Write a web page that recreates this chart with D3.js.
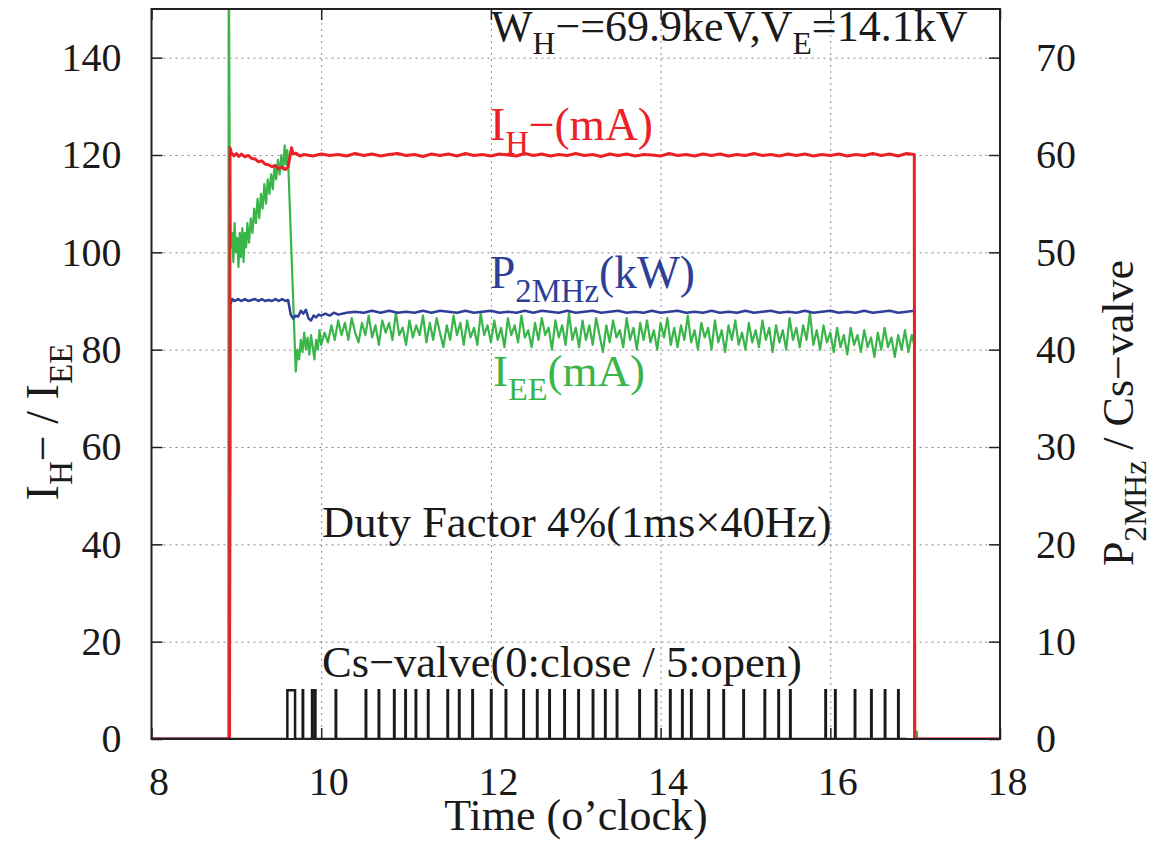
<!DOCTYPE html>
<html lang="en">
<head>
<meta charset="UTF-8">
<title>H- beam current, EE current and 2MHz power</title>
<script src="https://d3js.org/d3.v7.min.js"></script>
<style>
  body { margin: 0; background: #fff; }
  svg text { font-family: "Liberation Serif", "DejaVu Serif", serif; fill: #1a1a1a; }
  .grid line { stroke: #8a8a8a; stroke-dasharray: 2,4; stroke-width: 1; }
  .grid path { display: none; }
  .axis path { display: none; }
  .axis line { stroke: #222; stroke-width: 1.5; }
  .axis text { font-size: 40px; }
</style>
</head>
<body>
<div id="chart"></div>
<script>
// axis settings
const timeTicks = [8, 10, 12, 14, 16, 18];
const leftTicks = [0, 20, 40, 60, 80, 100, 120, 140];
const rightTicks = [0, 10, 20, 30, 40, 50, 60, 70];

// I_H- (mA), [time, value]
const ihData = [
  [8.0, 0], [8.92, 0], [8.925, 121.5], [8.94, 120.5], [8.97, 119.8], [9.0, 120.3], [9.03, 119.7],
  [9.06, 120.2], [9.1, 119.6], [9.14, 119.9], [9.18, 119.3], [9.22, 119.2], [9.26, 118.6],
  [9.30, 118.8], [9.34, 118.1], [9.38, 118.0], [9.42, 117.6], [9.46, 117.8], [9.50, 117.2],
  [9.54, 117.5], [9.58, 117.0], [9.61, 117.6], [9.63, 119.5], [9.65, 121.5], [9.67, 120.2],
  [9.70, 120.4], [9.75, 119.8],
  [9.8, 120.1], [9.9, 119.8], [10.0, 120.2], [10.1, 119.9], [10.2, 120.1], [10.3, 119.8],
  [10.4, 120.3], [10.5, 119.9], [10.6, 120.2], [10.7, 119.8], [10.8, 120.1], [10.9, 120.3],
  [11.0, 119.9], [11.1, 120.1], [11.2, 119.7], [11.3, 120.2], [11.4, 119.9], [11.5, 120.2],
  [11.6, 119.8], [11.7, 120.3], [11.8, 119.9], [11.9, 120.1], [12.0, 119.8], [12.1, 120.2],
  [12.2, 120.0], [12.3, 119.8], [12.4, 120.3], [12.5, 119.9], [12.6, 120.2], [12.7, 119.8],
  [12.8, 120.1], [12.9, 119.9], [13.0, 120.3], [13.1, 119.9], [13.2, 120.1], [13.3, 119.7],
  [13.4, 120.2], [13.5, 119.9], [13.6, 120.2], [13.7, 119.8], [13.8, 120.1], [13.9, 120.0],
  [14.0, 119.8], [14.1, 120.3], [14.2, 119.9], [14.3, 120.1], [14.4, 119.8], [14.5, 120.2],
  [14.6, 119.9], [14.7, 120.2], [14.8, 119.8], [14.9, 120.1], [15.0, 119.9], [15.1, 120.3],
  [15.2, 119.9], [15.3, 120.1], [15.4, 119.8], [15.5, 120.2], [15.6, 119.9], [15.7, 120.2],
  [15.8, 119.8], [15.9, 120.1], [16.0, 119.9], [16.1, 120.2], [16.2, 119.8], [16.3, 120.1],
  [16.4, 119.9], [16.5, 120.3], [16.6, 119.9], [16.7, 120.2], [16.8, 119.8], [16.9, 120.3],
  [16.99, 120.1], [16.995, 0], [18.0, 0]
];

// I_EE (mA), [time, value]
const ieeData = [
  [8.0, 0], [8.905, 0], [8.91, 165], [8.922, 118], [8.935, 101], [8.95, 104], [8.965, 98],
  [8.98, 106], [8.995, 100], [9.01, 103], [9.025, 97], [9.04, 104], [9.055, 99], [9.07, 105],
  [9.085, 98], [9.10, 104], [9.115, 101], [9.13, 106], [9.15, 102], [9.17, 107], [9.19, 104],
  [9.21, 109], [9.23, 106], [9.25, 111], [9.27, 107], [9.29, 112], [9.31, 109], [9.33, 114],
  [9.35, 110], [9.37, 115], [9.39, 112], [9.41, 116], [9.43, 113], [9.45, 118], [9.47, 115],
  [9.49, 119], [9.51, 116], [9.53, 120], [9.55, 117], [9.57, 122], [9.585, 118], [9.6, 121],
  [9.61, 119], [9.70, 75.5], [9.72, 80], [9.74, 78], [9.76, 82], [9.78, 79.5], [9.80, 83.5],
  [9.82, 80], [9.84, 82.5], [9.86, 79], [9.88, 83], [9.90, 80.5], [9.92, 78], [9.94, 82],
  [9.96, 80], [9.98, 84], [10.0, 81], [10.04, 83.5], [10.08, 81.5], [10.12, 85], [10.16, 82],
  [10.20, 86], [10.24, 83], [10.28, 85.5], [10.32, 82], [10.36, 86.5], [10.40, 83.5],
  [10.44, 81.5], [10.48, 85.5], [10.52, 83], [10.56, 87], [10.60, 82.5], [10.64, 85],
  [10.68, 81], [10.72, 86], [10.76, 83.5], [10.80, 85.5], [10.84, 82], [10.88, 87.5],
  [10.92, 83], [10.96, 84.5], [11.00, 81], [11.04, 86], [11.08, 82.5], [11.12, 85],
  [11.16, 83], [11.20, 87], [11.24, 81.5], [11.28, 85.5], [11.32, 82], [11.36, 86.5],
  [11.40, 83.5], [11.44, 80.5], [11.48, 85], [11.52, 82], [11.56, 87], [11.60, 83],
  [11.64, 85.5], [11.68, 81], [11.72, 86], [11.76, 82.5], [11.80, 84.5], [11.84, 81],
  [11.88, 87.5], [11.92, 83], [11.96, 85], [12.00, 81.5], [12.04, 86], [12.08, 82],
  [12.12, 84.5], [12.16, 80.5], [12.20, 86.5], [12.24, 83], [12.28, 85], [12.32, 81.5],
  [12.36, 87], [12.40, 82.5], [12.44, 84], [12.48, 80.5], [12.52, 85.5], [12.56, 82],
  [12.60, 86.5], [12.64, 83], [12.68, 84.5], [12.72, 80], [12.76, 86], [12.80, 82.5],
  [12.84, 85], [12.88, 81], [12.92, 87.5], [12.96, 82], [13.00, 84.5], [13.04, 80.5],
  [13.08, 86], [13.12, 82], [13.16, 85], [13.20, 81], [13.24, 86.5], [13.28, 83],
  [13.32, 79.5], [13.36, 85], [13.40, 81.5], [13.44, 86], [13.48, 82.5], [13.52, 84],
  [13.56, 80.5], [13.60, 86.5], [13.64, 82], [13.68, 84.5], [13.72, 80], [13.76, 85.5],
  [13.80, 82], [13.84, 86], [13.88, 81.5], [13.92, 84], [13.96, 80], [14.00, 85.5],
  [14.04, 82.5], [14.08, 86.5], [14.12, 81], [14.16, 84.5], [14.20, 80.5], [14.24, 85],
  [14.28, 82], [14.32, 87], [14.36, 81.5], [14.40, 84], [14.44, 80], [14.48, 85.5],
  [14.52, 82.5], [14.56, 84.5], [14.60, 80], [14.64, 86], [14.68, 81.5], [14.72, 84],
  [14.76, 79.5], [14.80, 85], [14.84, 82], [14.88, 86], [14.92, 81], [14.96, 83.5],
  [15.00, 80], [15.04, 85.5], [15.08, 81.5], [15.12, 84], [15.16, 80.5], [15.20, 86],
  [15.24, 82], [15.28, 84.5], [15.32, 79.5], [15.36, 85], [15.40, 81.5], [15.44, 84],
  [15.48, 80], [15.52, 86.5], [15.56, 82], [15.60, 84.5], [15.64, 80.5], [15.68, 85],
  [15.72, 82], [15.76, 87.5], [15.80, 81], [15.84, 84], [15.88, 80], [15.92, 85],
  [15.96, 81.5], [16.00, 83.5], [16.04, 79.5], [16.08, 84.5], [16.12, 80.5], [16.16, 83],
  [16.20, 79], [16.24, 84.5], [16.28, 81], [16.32, 83], [16.36, 79.5], [16.40, 84],
  [16.44, 80.5], [16.48, 82.5], [16.52, 78.5], [16.56, 83.5], [16.60, 80], [16.64, 84.5],
  [16.68, 80.5], [16.72, 82.5], [16.76, 78.5], [16.80, 83], [16.84, 80], [16.88, 84],
  [16.92, 79.5], [16.96, 83], [16.99, 81], [16.995, 0], [17.005, 0], [17.01, 1.5],
  [17.02, 1.5], [17.025, 0], [18.0, 0]
];

// P_2MHz (kW, right axis), [time, value]
const p2mhzData = [
  [8.0, 0], [8.92, 0], [8.93, 44.6], [8.95, 45.2], [8.98, 45.0], [9.02, 45.2], [9.06, 45.0],
  [9.10, 45.2], [9.14, 45.0], [9.18, 45.1], [9.22, 45.2], [9.26, 45.0], [9.30, 45.2],
  [9.34, 45.0], [9.38, 45.1], [9.42, 45.0], [9.46, 45.2], [9.50, 45.0], [9.54, 45.2],
  [9.58, 45.0], [9.61, 45.1], [9.64, 43.6], [9.67, 43.2], [9.70, 43.5], [9.73, 43.4],
  [9.76, 44.0], [9.79, 43.7], [9.82, 44.1], [9.85, 43.2], [9.88, 43.0], [9.91, 43.5],
  [9.94, 43.3], [9.97, 43.6], [10.0, 43.5], [10.05, 43.7], [10.1, 43.5], [10.15, 43.8],
  [10.2, 43.6], [10.3, 43.8],
  [10.4, 43.9], [10.5, 43.8], [10.6, 44.0], [10.7, 43.8], [10.8, 44.0], [10.9, 43.8],
  [11.0, 43.9], [11.1, 43.8], [11.2, 44.0], [11.3, 43.8], [11.4, 44.0], [11.5, 43.9],
  [11.6, 43.8], [11.7, 44.0], [11.8, 43.8], [11.9, 43.9], [12.0, 44.0], [12.1, 43.8],
  [12.2, 43.9], [12.3, 43.8], [12.4, 44.0], [12.5, 43.8], [12.6, 44.0], [12.7, 43.9],
  [12.8, 43.8], [12.9, 44.0], [13.0, 43.8], [13.1, 43.9], [13.2, 44.0], [13.3, 43.8],
  [13.4, 43.9], [13.5, 44.0], [13.6, 43.8], [13.7, 43.9], [13.8, 43.8], [13.9, 44.0],
  [14.0, 43.8], [14.1, 43.9], [14.2, 44.0], [14.3, 43.8], [14.4, 43.9], [14.5, 43.8],
  [14.6, 44.0], [14.7, 43.8], [14.8, 43.9], [14.9, 43.8], [15.0, 44.0], [15.1, 43.8],
  [15.2, 43.9], [15.3, 44.0], [15.4, 43.8], [15.5, 43.9], [15.6, 43.8], [15.7, 44.0],
  [15.8, 43.8], [15.9, 43.9], [16.0, 44.0], [16.1, 43.8], [16.2, 43.9], [16.3, 43.8],
  [16.4, 44.0], [16.5, 43.8], [16.6, 43.9], [16.7, 44.0], [16.8, 43.8], [16.9, 43.9],
  [16.99, 44.0], [16.995, 0], [18.0, 0]
];

// Cs-valve open periods (value 5 = open), [open, close] in o'clock
const csPulses = [
  [9.601, 9.692], [9.782, 9.787], [9.892, 9.897], [9.927, 9.932], [10.171, 10.176],
  [10.525, 10.53], [10.678, 10.683], [10.859, 10.864], [10.992, 10.997], [11.114, 11.119],
  [11.259, 11.264], [11.489, 11.494], [11.625, 11.63], [11.782, 11.787], [12.002, 12.007],
  [12.175, 12.18], [12.383, 12.388], [12.544, 12.549], [12.689, 12.694], [12.866, 12.871],
  [13.031, 13.036], [13.201, 13.206], [13.346, 13.351], [13.484, 13.489], [13.75, 13.755],
  [13.944, 13.949], [14.112, 14.117], [14.254, 14.259], [14.36, 14.365], [14.564, 14.569],
  [14.741, 14.746], [14.976, 14.981], [15.226, 15.231], [15.389, 15.394], [15.527, 15.532],
  [15.943, 15.948], [16.057, 16.062], [16.289, 16.294], [16.482, 16.487], [16.643, 16.648],
  [16.8, 16.805]
];
const csOpenValue = 5;

// layout
const margin = {top: 9, right: 153, bottom: 104, left: 151.5},
      width = 1153 - margin.left - margin.right,
      height = 843 - margin.top - margin.bottom;

const svg = d3.select("#chart")
  .append("svg")
  .attr("width", 1153)
  .attr("height", 843)
  .append("g")
  .attr("transform", `translate(${margin.left},${margin.top})`);

const x = d3.scaleLinear().domain([8, 18]).range([0, width]);
const y = d3.scaleLinear().domain([0, 150]).range([height, 0]);
const y2 = d3.scaleLinear().domain([0, 75]).range([height, 0]);

// grid
svg.append("g")
  .attr("class", "grid")
  .call(d3.axisLeft(y).tickValues(leftTicks.slice(1)).tickSize(-width).tickFormat(""));
svg.append("g")
  .attr("class", "grid")
  .attr("transform", `translate(0,${height})`)
  .call(d3.axisBottom(x).tickValues(timeTicks.slice(1, -1)).tickSize(-height).tickFormat(""));

// clip the traces to the plot box
svg.append("clipPath").attr("id", "plot-clip")
  .append("rect").attr("width", width).attr("height", height);

const plot = svg.append("g").attr("clip-path", "url(#plot-clip)");

const lineLeft = d3.line().x(d => x(d[0])).y(d => y(d[1]));
const lineRight = d3.line().x(d => x(d[0])).y(d => y2(d[1]));

plot.append("path").datum(ieeData)
  .attr("d", lineLeft).attr("fill", "none")
  .attr("stroke", "#39b54a").attr("stroke-width", 2.2).attr("stroke-linejoin", "round");

plot.append("path").datum(p2mhzData)
  .attr("d", lineRight).attr("fill", "none")
  .attr("stroke", "#2e3f98").attr("stroke-width", 2.5).attr("stroke-linejoin", "round");

plot.append("path").datum(ihData)
  .attr("d", lineLeft).attr("fill", "none")
  .attr("stroke", "#ec2027").attr("stroke-width", 3).attr("stroke-linejoin", "round");

// Cs-valve pulses
const csPoints = [[8, 0]];
csPulses.forEach(p => {
  csPoints.push([p[0], 0], [p[0], csOpenValue], [p[1], csOpenValue], [p[1], 0]);
});
csPoints.push([16.9, 0]);

plot.append("path").datum(csPoints)
  .attr("d", lineRight).attr("fill", "none")
  .attr("stroke", "#1a1a1a").attr("stroke-width", 2.5);

// axes with inward ticks
svg.append("g")
  .attr("class", "axis")
  .call(d3.axisLeft(y).tickValues(leftTicks).tickSize(-11).tickPadding(30).tickFormat(d3.format("d")));

svg.append("g")
  .attr("class", "axis")
  .attr("transform", `translate(${width},0)`)
  .call(d3.axisRight(y2).tickValues(rightTicks).tickSize(-11).tickPadding(36).tickFormat(d3.format("d")));

svg.append("g")
  .attr("class", "axis")
  .attr("transform", `translate(0,${height})`)
  .call(d3.axisBottom(x).tickValues(timeTicks).tickSize(-11).tickPadding(28).tickFormat(d3.format("d")))
  .selectAll("text").attr("dx", 7);

svg.append("g")
  .attr("class", "axis")
  .call(d3.axisTop(x).tickValues(timeTicks).tickSize(-11).tickFormat(""));

// frame
svg.append("rect")
  .attr("width", width).attr("height", height)
  .attr("fill", "none").attr("stroke", "#222").attr("stroke-width", 2);

// text with sub / superscripts
function richText(parent, parts, size, color) {
  const t = parent.append("text").style("font-size", size + "px").style("fill", color);
  let shift = 0;
  parts.forEach(p => {
    const target = p.sub ? 0.3 * size : 0;
    t.append("tspan")
      .attr("dy", target - shift)
      .style("font-size", (p.sub ? 0.72 * size : size) + "px")
      .text(p.t);
    shift = target;
  });
  return t;
}

const frame = d3.select("svg");

richText(frame, [{t: "W"}, {t: "H", sub: true}, {t: "−=69.9keV,V"}, {t: "E", sub: true}, {t: "=14.1kV"}], 44, "#1a1a1a")
  .attr("x", 491).attr("y", 41);

richText(frame, [{t: "I"}, {t: "H", sub: true}, {t: "−(mA)"}], 45.5, "#ec2027")
  .attr("x", 490).attr("y", 140);

richText(frame, [{t: "P"}, {t: "2MHz", sub: true}, {t: "(kW)"}], 45.5, "#2e3f98")
  .attr("x", 490).attr("y", 288);

richText(frame, [{t: "I"}, {t: "EE", sub: true}, {t: "(mA)"}], 45, "#39b54a")
  .attr("x", 493).attr("y", 386);

frame.append("text")
  .attr("x", 322).attr("y", 537)
  .style("font-size", "44.5px")
  .text("Duty Factor 4%(1ms×40Hz)");

frame.append("text")
  .attr("x", 322).attr("y", 677)
  .style("font-size", "44.5px")
  .text("Cs−valve(0:close / 5:open)");

// axis titles
frame.append("text")
  .attr("x", 576).attr("y", 830)
  .attr("text-anchor", "middle")
  .style("font-size", "44px")
  .text("Time (o’clock)");

richText(frame, [{t: "I"}, {t: "H", sub: true}, {t: "−"}, {t: " / I"}, {t: "EE", sub: true}], 46, "#1a1a1a")
  .attr("text-anchor", "middle")
  .attr("transform", "translate(58,422) rotate(-90)");

richText(frame, [{t: "P"}, {t: "2MHz", sub: true}, {t: " / Cs−valve"}], 44, "#1a1a1a")
  .attr("text-anchor", "middle")
  .attr("transform", "translate(1133,413) rotate(-90)");
</script>
</body>
</html>
